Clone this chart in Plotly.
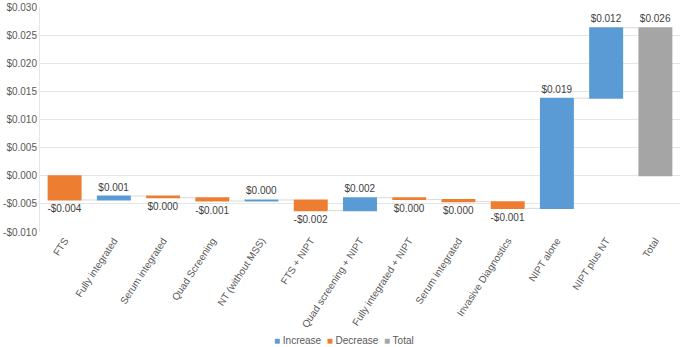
import plotly.graph_objects as go

categories = ["FTS", "Fully integrated", "Serum integrated", "Quad Screening",
              "NT (without MSS)", "FTS + NIPT", "Quad screening + NIPT",
              "Fully integrated + NIPT", "Serum integrated", "Invasive Diagnostics",
              "NIPT alone", "NIPT plus NT", "Total"]
deltas = [-0.0043, 0.0007, -0.0003, -0.0006, 0.0002, -0.0019, 0.0023,
          -0.0003, -0.0004, -0.0012, 0.0196, 0.0125, 0.0]
measures = ["relative"] * 12 + ["total"]
labels = ["-$0.004", "$0.001", "$0.000", "-$0.001", "$0.000", "-$0.002", "$0.002",
          "$0.000", "$0.000", "-$0.001", "$0.019", "$0.012", "$0.026"]
y_ticks = [-0.010, -0.005, 0.0, 0.005, 0.010, 0.015, 0.020, 0.025, 0.030]
y_tick_labels = ["-$0.010", "-$0.005", "$0.000", "$0.005", "$0.010", "$0.015",
                 "$0.020", "$0.025", "$0.030"]
legend_names = ["Increase", "Decrease", "Total"]

BLUE = "#5B9BD5"
ORANGE = "#ED7D31"
GRAY = "#A5A5A5"
FONT = "Liberation Sans, Arial, sans-serif"

positions = list(range(len(categories)))

fig = go.Figure()
fig.add_trace(go.Waterfall(
    x=positions,
    y=deltas,
    measure=measures,
    text=labels,
    textposition="outside",
    textfont=dict(family=FONT, size=10, color="#404040"),
    increasing=dict(marker=dict(color=BLUE, line=dict(width=0))),
    decreasing=dict(marker=dict(color=ORANGE, line=dict(width=0))),
    totals=dict(marker=dict(color=GRAY, line=dict(width=0))),
    connector=dict(line=dict(color="#D9D9D9", width=1), mode="between"),
    cliponaxis=False,
    constraintext="none",
    showlegend=False,
    hoverinfo="x+y",
))

# Compact legend built as a single text line (Excel-style)
legend_html = "  ".join(
    f"<span style='color:{c}'>■</span> {n}"
    for n, c in zip(legend_names, [BLUE, ORANGE, GRAY])
)
fig.add_annotation(
    text=legend_html, xref="paper", yref="paper", x=0.475, y=-0.48,
    xanchor="center", yanchor="middle", showarrow=False,
    font=dict(family=FONT, size=10, color="#595959"),
)

fig.update_layout(
    width=685, height=347,
    margin=dict(l=40, r=5, t=7, b=115, autoexpand=False),
    paper_bgcolor="white", plot_bgcolor="white",
    font=dict(family=FONT, size=10, color="#595959"),
    waterfallgap=0.31,
    showlegend=False,
)
fig.update_xaxes(
    tickmode="array", tickvals=positions, ticktext=categories,
    tickangle=-57, showgrid=False, zeroline=False, showline=False,
    ticklabeloverflow="allow", ticks="", ticklen=0,
    range=[-0.5, len(categories) - 0.5],
    tickfont=dict(family=FONT, size=10, color="#595959"),
)
fig.update_yaxes(
    range=[-0.010, 0.030], tickvals=y_ticks, ticktext=y_tick_labels,
    showgrid=True, gridcolor="#E5E5E5", gridwidth=1, zeroline=False,
    showline=True, linecolor="#E5E5E5", linewidth=1,
    tickfont=dict(family=FONT, size=10, color="#595959"),
)

fig.write_html("out.html", config={"displayModeBar": False},
               post_script="document.body.style.margin='0';")
